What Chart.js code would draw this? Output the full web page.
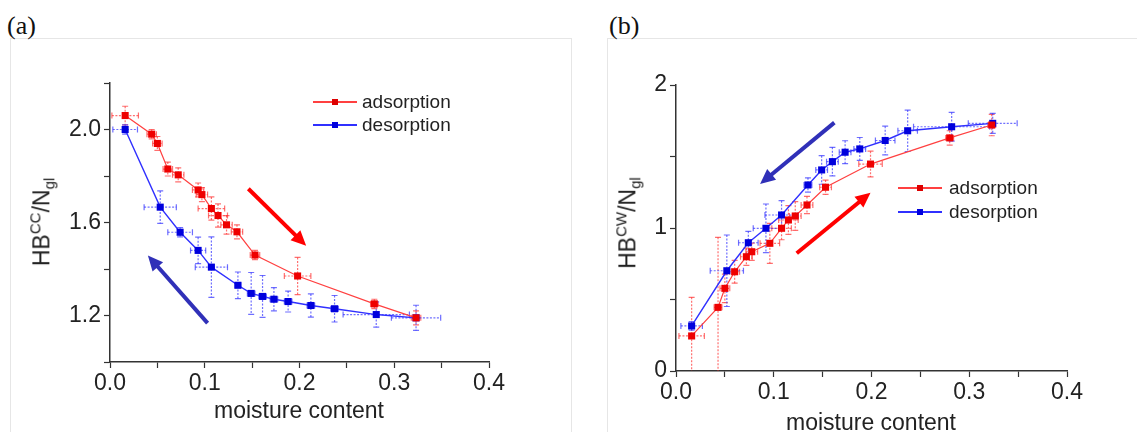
<!DOCTYPE html>
<html><head><meta charset="utf-8">
<script src="https://cdn.jsdelivr.net/npm/chart.js@4.4.0/dist/chart.umd.min.js"></script>
<style>
body{margin:0;background:#fff;}
#wrap{position:relative;width:1137px;height:432px;overflow:hidden;background:#fff;font-family:"Liberation Sans",Arial,sans-serif;color:#222;}
canvas{position:absolute;top:0;}
.frame{position:absolute;border:1px solid #e6e6e6;}
.panel{position:absolute;font-family:"Liberation Serif","Times New Roman",serif;font-size:26px;line-height:26px;color:#111;}
.xlab{position:absolute;font-size:23px;line-height:23px;transform:translate(-50%,-50%);white-space:nowrap;}
.ylab{position:absolute;font-size:23px;line-height:23px;transform:translate(-50%,-50%) rotate(-90deg);white-space:nowrap;}
.ylab sup,.ylab sub{font-size:15px;}
.legtxt{position:absolute;font-size:19px;line-height:22px;white-space:nowrap;color:#222;}
.legline{position:absolute;height:1.5px;width:44px;}
.legsq{position:absolute;width:6px;height:6px;}
</style></head>
<body><div id="wrap">
<div class="frame" style="left:10px;top:38px;width:560px;height:420px;"></div>
<div class="frame" style="left:607px;top:38px;width:560px;height:420px;"></div>
<div class="panel" style="left:7px;top:13px;">(a)</div>
<div class="panel" style="left:609px;top:13px;">(b)</div>
<canvas id="ca" width="580" height="432" style="left:0;"></canvas>
<canvas id="cb" width="557" height="432" style="left:580px;"></canvas>
<div class="ylab" style="left:42px;top:222px;">HB<sup>CC</sup>/N<sub>gl</sub></div>
<div class="ylab" style="left:628px;top:223px;">HB<sup>CW</sup>/N<sub>gl</sub></div>
<div class="xlab" style="left:299px;top:410px;">moisture content</div>
<div class="xlab" style="left:871px;top:422px;">moisture content</div>

<div class="legline" style="left:313px;top:101px;background:#ff4040;"></div>
<div class="legsq" style="left:332px;top:99px;background:#dd0000;"></div>
<div class="legtxt" style="left:362px;top:91px;">adsorption</div>
<div class="legline" style="left:313px;top:124px;background:#3030ff;"></div>
<div class="legsq" style="left:332px;top:122px;background:#0000dd;"></div>
<div class="legtxt" style="left:362px;top:114px;">desorption</div>

<div class="legline" style="left:898px;top:187px;background:#ff4040;"></div>
<div class="legsq" style="left:917px;top:185px;background:#dd0000;"></div>
<div class="legtxt" style="left:949px;top:177px;">adsorption</div>
<div class="legline" style="left:898px;top:211px;background:#3030ff;"></div>
<div class="legsq" style="left:917px;top:209px;background:#0000dd;"></div>
<div class="legtxt" style="left:949px;top:201px;">desorption</div>
</div>
<script>
// ---- tick values and labels ----
const xTicks = [0,0.05,0.1,0.15,0.2,0.25,0.3,0.35,0.4];
const xTickLabels = ['0.0','','0.1','','0.2','','0.3','','0.4'];
const aYTicks = [1.0,1.2,1.4,1.6,1.8,2.0,2.2];
const aYTickLabels = ['','1.2','','1.6','','2.0',''];
const bYTicks = [0,0.5,1,1.5,2];
const bYTickLabels = ['0','','1','','2'];

// ---- panel (a): HB^CC/N_gl ----
const aAdsX    = [0.016,0.044,0.050,0.061,0.072,0.093,0.097,0.107,0.114,0.123,0.134,0.153,0.198,0.279,0.323];
const aAdsY    = [2.06,1.98,1.94,1.83,1.805,1.74,1.72,1.66,1.63,1.59,1.56,1.46,1.37,1.25,1.19];
const aAdsXErr = [0.014,0.005,0.005,0.005,0.006,0.006,0.006,0.014,0.010,0.006,0.006,0.005,0.014,0.004,0.005];
const aAdsYErr = [0.04,0.02,0.03,0.03,0.03,0.03,0.03,0.05,0.05,0.04,0.03,0.02,0.08,0.02,0.03];

const aDesX    = [0.016,0.053,0.074,0.093,0.107,0.135,0.149,0.161,0.173,0.188,0.212,0.237,0.281,0.323];
const aDesY    = [2.00,1.666,1.558,1.48,1.408,1.33,1.295,1.282,1.27,1.26,1.243,1.229,1.204,1.19];
const aDesXErr = [0.013,0.017,0.013,0.008,0.017,0.003,0.004,0.004,0.004,0.004,0.004,0.004,0.035,0.026];
const aDesYErr = [0.02,0.07,0.02,0.057,0.13,0.057,0.09,0.09,0.05,0.045,0.05,0.057,0.054,0.054];

// ---- panel (b): HB^CW/N_gl ----
const bAdsX    = [0.016,0.043,0.050,0.060,0.072,0.0775,0.096,0.108,0.115,0.122,0.134,0.153,0.199,0.280,0.323];
const bAdsY    = [0.245,0.445,0.578,0.694,0.799,0.834,0.893,0.998,1.056,1.084,1.161,1.285,1.447,1.63,1.72];
const bAdsXErr = [0.013,0.004,0.005,0.005,0.006,0.006,0.010,0.010,0.010,0.006,0.006,0.006,0.012,0.004,0.004];
const bAdsYErr = [0.27,0.49,0.10,0.08,0.06,0.06,0.14,0.08,0.10,0.10,0.06,0.05,0.09,0.05,0.075];

const bDesX    = [0.016,0.052,0.074,0.092,0.108,0.135,0.149,0.160,0.173,0.188,0.214,0.237,0.282,0.324];
const bDesY    = [0.315,0.701,0.897,0.998,1.091,1.301,1.406,1.464,1.53,1.553,1.612,1.68,1.708,1.732];
const bDesXErr = [0.011,0.017,0.010,0.013,0.017,0.004,0.006,0.006,0.006,0.006,0.010,0.010,0.039,0.025];
const bDesYErr = [0.03,0.25,0.08,0.17,0.10,0.05,0.10,0.10,0.08,0.08,0.10,0.145,0.10,0.07];

// ---- annotation arrows (data coordinates) ----
const aArrows = [
  {from:[0.146,1.745], to:[0.207,1.50], color:'#ff0000'},
  {from:[0.103,1.167], to:[0.040,1.458], color:'#3030b8'}
];
const bArrows = [
  {from:[0.162,1.737], to:[0.086,1.308], color:'#3030b8'},
  {from:[0.1235,0.823], to:[0.199,1.247], color:'#ff0000'}
];

const pts = (xs,ys)=>xs.map((x,i)=>({x:x,y:ys[i]}));

const errorBars = {
  id:'errorBars',
  beforeDatasetsDraw(chart){
    const ctx = chart.ctx, xs = chart.scales.x, ys = chart.scales.y, a = chart.chartArea;
    ctx.save();
    ctx.beginPath(); ctx.rect(a.left, a.top-20, a.right-a.left+40, a.bottom-a.top+20); ctx.clip();
    chart.data.datasets.forEach(ds=>{
      ctx.strokeStyle = ds.errColor; ctx.lineWidth = 1.2;
      ds.data.forEach((p,i)=>{
        const px = xs.getPixelForValue(p.x), py = ys.getPixelForValue(p.y);
        const ye = ds.yErr[i], xe = ds.xErr[i];
        ctx.setLineDash([2,1.5]);
        if (ye){
          const t = ys.getPixelForValue(p.y+ye), b = ys.getPixelForValue(p.y-ye);
          ctx.beginPath(); ctx.moveTo(px,t); ctx.lineTo(px,b); ctx.stroke();
          ctx.setLineDash([]);
          ctx.beginPath(); ctx.moveTo(px-3,t); ctx.lineTo(px+3,t); ctx.moveTo(px-3,b); ctx.lineTo(px+3,b); ctx.stroke();
          ctx.setLineDash([2,1.5]);
        }
        if (xe){
          const l = xs.getPixelForValue(p.x-xe), r = xs.getPixelForValue(p.x+xe);
          ctx.beginPath(); ctx.moveTo(l,py); ctx.lineTo(r,py); ctx.stroke();
          ctx.setLineDash([]);
          ctx.beginPath(); ctx.moveTo(l,py-3); ctx.lineTo(l,py+3); ctx.moveTo(r,py-3); ctx.lineTo(r,py+3); ctx.stroke();
        }
      });
    });
    ctx.restore();
  }
};

const arrowsPlugin = {
  id:'arrows',
  afterDatasetsDraw(chart, args, opts){
    const ctx = chart.ctx, xs = chart.scales.x, ys = chart.scales.y;
    (opts.list||[]).forEach(ar=>{
      const x1 = xs.getPixelForValue(ar.from[0]), y1 = ys.getPixelForValue(ar.from[1]);
      const x2 = xs.getPixelForValue(ar.to[0]), y2 = ys.getPixelForValue(ar.to[1]);
      const ang = Math.atan2(y2-y1, x2-x1), hl = 15, hw = 7;
      const bx = x2 - hl*Math.cos(ang), by = y2 - hl*Math.sin(ang);
      ctx.save();
      ctx.strokeStyle = ar.color; ctx.fillStyle = ar.color; ctx.lineWidth = 4; ctx.lineCap = 'butt';
      ctx.beginPath(); ctx.moveTo(x1,y1); ctx.lineTo(bx+2*Math.cos(ang),by+2*Math.sin(ang)); ctx.stroke();
      ctx.beginPath();
      ctx.moveTo(x2,y2);
      ctx.lineTo(bx + hw*Math.sin(ang), by - hw*Math.cos(ang));
      ctx.lineTo(bx - hw*Math.sin(ang), by + hw*Math.cos(ang));
      ctx.closePath(); ctx.fill();
      ctx.restore();
    });
  }
};

function axisCommon(){
  return {
    grid:{display:true,drawOnChartArea:false,drawTicks:true,tickLength:6,tickColor:'#333',tickWidth:1.2},
    border:{display:true,color:'#333',width:1.5,dash:[2,1]},
  };
}

function makeChart(id, datasets, yMin, yMax, yTicks, yLabels, yW, xH, pad, arrows){
  return new Chart(document.getElementById(id), {
    type:'scatter',
    data:{datasets:datasets},
    plugins:[errorBars, arrowsPlugin],
    options:{
      responsive:false, animation:false, devicePixelRatio:1,
      layout:{padding:pad},
      plugins:{legend:{display:false}, tooltip:{enabled:false}, arrows:{list:arrows}},
      scales:{
        x:Object.assign(axisCommon(), {
          type:'linear', min:0, max:0.4,
          afterBuildTicks:s=>{ s.ticks = xTicks.map(v=>({value:v})); },
          afterFit:s=>{ s.height = xH; },
          ticks:{autoSkip:false,maxRotation:0,minRotation:0,padding:2,color:'#222',
                 font:{family:'"Liberation Sans", Arial, sans-serif',size:23},
                 callback:(v,i)=>xTickLabels[i]}
        }),
        y:Object.assign(axisCommon(), {
          type:'linear', min:yMin, max:yMax,
          afterBuildTicks:s=>{ s.ticks = yTicks.map(v=>({value:v})); },
          afterFit:s=>{ s.width = yW; },
          ticks:{autoSkip:false,padding:3,color:'#222',
                 font:{family:'"Liberation Sans", Arial, sans-serif',size:23},
                 callback:(v,i)=>yLabels[i]}
        })
      }
    }
  });
}

function ds(xs,ys,xe,ye,line,point,err,lw){
  return {data:pts(xs,ys), xErr:xe, yErr:ye, errColor:err, showLine:true,
    borderColor:line, borderWidth:lw, backgroundColor:point, pointBackgroundColor:point,
    pointBorderWidth:0, pointStyle:'rect', pointRadius:5, tension:0};
}

makeChart('ca', [
  ds(aAdsX,aAdsY,aAdsXErr,aAdsYErr,'#ff4040','#ee0000','rgba(255,50,50,0.7)',1.2),
  ds(aDesX,aDesY,aDesXErr,aDesYErr,'#3030ff','#0000dd','rgba(50,50,255,0.7)',1.4)
], 1.0, 2.2, aYTicks, aYTickLabels, 110, 70, {left:0,top:83,right:91,bottom:0}, aArrows);

makeChart('cb', [
  ds(bAdsX,bAdsY,bAdsXErr,bAdsYErr,'#ff4040','#ee0000','rgba(255,50,50,0.7)',1.2),
  ds(bDesX,bDesY,bDesXErr,bDesYErr,'#3030ff','#0000dd','rgba(50,50,255,0.7)',1.4)
], 0, 2, bYTicks, bYTickLabels, 96, 61, {left:0,top:85,right:70,bottom:0}, bArrows);
</script>
</body></html>
